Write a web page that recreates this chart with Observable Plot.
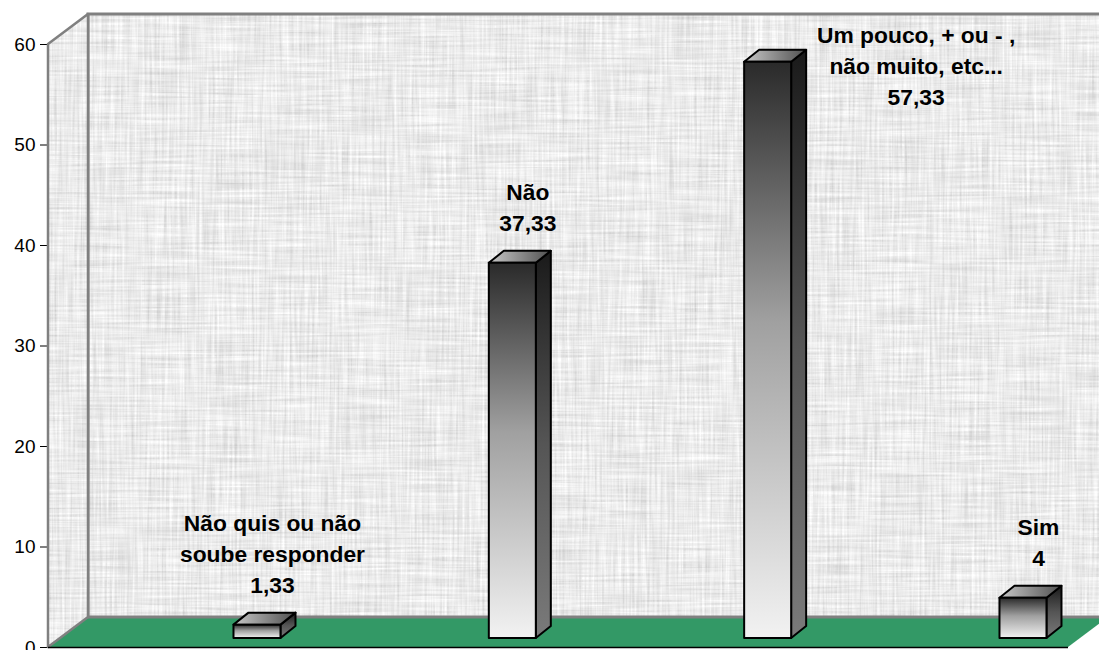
<!DOCTYPE html>
<html>
<head>
<meta charset="utf-8">
<script src="https://cdn.jsdelivr.net/npm/d3@7"></script>
<script src="https://cdn.jsdelivr.net/npm/@observablehq/plot@0.6"></script>
<style>
  html, body { margin: 0; padding: 0; background: #fff; overflow: hidden; }
  #chart svg { display: block; overflow: hidden; }
</style>
</head>
<body>
<div id="chart"></div>
<script>
// Survey answers and their percentages
const categories = ["Não quis ou não soube responder", "Não", "Um pouco, + ou - , não muito, etc...", "Sim"];
const labelLines = [["Não quis ou não", "soube responder"], ["Não"], ["Um pouco, + ou - ,", "não muito, etc..."], ["Sim"]];
const values = [1.33, 37.33, 57.33, 4];
const yTicks = [0, 10, 20, 30, 40, 50, 60];

// Page geometry (front plane of the 3D box, in pixels)
const W = 1099, H = 650;
const frontLeft = 48, frontRight = 1068, frontBottom = 647, frontTop = 44;
const xDomain = [-0.8185, 3.1763];
const yDomain = [0, 60];
const ux = px => px * (xDomain[1] - xDomain[0]) / (frontRight - frontLeft);
const uy = px => px * (yDomain[1] - yDomain[0]) / (frontBottom - frontTop);

const [x0, x1] = xDomain;
const [y0, y1] = yDomain;
const wallDX = ux(40), wallDY = uy(30);      // depth of the box
const halfW = ux(23.5);                        // half bar width
const barDX = ux(15), barDY = uy(12);          // bar depth
const base = uy(9);                            // bars stand mid-floor
const fmt = v => String(v).replace(".", ",");

// Faces of each 3D bar
const fronts = values.map((v, i) => ({i, xa: i - halfW, xb: i + halfW, ya: base, yb: base + v}));
const sides = values.flatMap((v, i) => [
  {i, x: i + halfW, ya: base, yb: base + v},
  {i, x: i + halfW + barDX, ya: base + barDY, yb: base + v + barDY}
]);
const tops = values.flatMap((v, i) => [
  {i, y: base + v, xa: i - halfW, xb: i + halfW},
  {i, y: base + v + barDY, xa: i - halfW + barDX, xb: i + halfW + barDX}
]);

// Value labels: above the bar when there is room, otherwise beside it
const lineH = 31, fontPx = 22.8;
const labels = values.map((v, i) => {
  const lines = [...labelLines[i], fmt(v)];
  const topPx = frontBottom - (base + v + barDY) / (y1 - y0) * (frontBottom - frontTop);
  const fits = topPx - 19 - lines.length * lineH > 0;
  return {i, v, text: lines.join("\n"), fits};
});
const above = labels.filter(d => d.fits);
const beside = labels.filter(d => !d.fits);

const chart = Plot.plot({
  width: W,
  height: H,
  marginLeft: frontLeft,
  marginRight: W - frontRight,
  marginTop: frontTop,
  marginBottom: H - frontBottom,
  style: {fontFamily: "Liberation Sans, Arial, sans-serif", fontSize: "19px", color: "#000", background: "#fff"},
  x: {type: "linear", domain: xDomain, axis: null},
  y: {domain: yDomain, ticks: yTicks, tickSize: 8, tickPadding: 5, label: null},
  marks: [
    // floor
    Plot.areaX([{y: 0, xa: x0, xb: x1}, {y: wallDY, xa: x0 + wallDX, xb: x1 + wallDX}],
      {y: "y", x1: "xa", x2: "xb", fill: "#339966"}),
    // back wall
    Plot.rect([{xa: x0 + wallDX, xb: x1 + wallDX, ya: wallDY, yb: y1 + wallDY}],
      {x1: "xa", x2: "xb", y1: "ya", y2: "yb", fill: "url(#canvas)", stroke: "#808080", strokeWidth: 3}),
    // side wall
    Plot.areaY([{x: x0, ya: 0, yb: y1}, {x: x0 + wallDX, ya: wallDY, yb: y1 + wallDY}],
      {x: "x", y1: "ya", y2: "yb", fill: "url(#canvas)", stroke: "#808080", strokeWidth: 2.5}),
    // front edge of the floor
    Plot.ruleY([0], {x1: x0, x2: x1, stroke: "#000", strokeWidth: 1.5}),
    // bars
    Plot.areaY(sides, {x: "x", y1: "ya", y2: "yb", z: "i", fill: "url(#barSide)", stroke: "#000", strokeWidth: 2, strokeLinejoin: "round"}),
    Plot.areaX(tops, {y: "y", x1: "xa", x2: "xb", z: "i", fill: "url(#barTop)", stroke: "#000", strokeWidth: 2, strokeLinejoin: "round"}),
    Plot.rect(fronts, {x1: "xa", x2: "xb", y1: "ya", y2: "yb", fill: "url(#barFront)", stroke: "#000", strokeWidth: 2, strokeLinejoin: "round"}),
    // labels
    Plot.text(above, {
      x: d => d.i + ux(15), y: d => base + d.v + barDY + uy(20), text: "text",
      lineAnchor: "bottom", lineHeight: lineH / fontPx, fontSize: fontPx, fontWeight: "bold", fill: "#000"
    }),
    Plot.text(beside, {
      x: d => d.i + ux(148), y: d => base + d.v - uy(2), text: "text",
      lineAnchor: "middle", lineHeight: lineH / fontPx, fontSize: fontPx, fontWeight: "bold", fill: "#000"
    })
  ]
});

// Gradients and the woven canvas texture of the walls
d3.select(chart).insert("defs", ":first-child").html(`
  <filter id="weave" filterUnits="userSpaceOnUse" x="0" y="0" width="${W}" height="${H}">
    <feTurbulence type="fractalNoise" baseFrequency="0.015 0.4" numOctaves="2" seed="4" result="h"/>
    <feTurbulence type="fractalNoise" baseFrequency="0.4 0.015" numOctaves="2" seed="9" result="v"/>
    <feComposite in="h" in2="v" operator="arithmetic" k1="0" k2="0.5" k3="0.5" k4="0"/>
    <feColorMatrix type="matrix" values="0.7 0 0 0 0.48  0.7 0 0 0 0.48  0.7 0 0 0 0.48  0 0 0 0 1"/>
  </filter>
  <pattern id="canvas" patternUnits="userSpaceOnUse" x="0" y="0" width="${W}" height="${H}">
    <rect width="${W}" height="${H}" filter="url(#weave)"/>
  </pattern>
  <linearGradient id="barFront" x1="0" y1="0" x2="0" y2="1">
    <stop offset="0" stop-color="#2a2a2a"/>
    <stop offset="0.45" stop-color="#a0a0a0"/>
    <stop offset="1" stop-color="#f2f2f2"/>
  </linearGradient>
  <linearGradient id="barSide" x1="0" y1="0" x2="0" y2="1">
    <stop offset="0" stop-color="#1a1a1a"/>
    <stop offset="0.5" stop-color="#555555"/>
    <stop offset="1" stop-color="#7a7a7a"/>
  </linearGradient>
  <linearGradient id="barTop" x1="0" y1="0" x2="1" y2="0">
    <stop offset="0" stop-color="#c8c8c8"/>
    <stop offset="1" stop-color="#505050"/>
  </linearGradient>
`);

document.getElementById("chart").appendChild(chart);
</script>
</body>
</html>
